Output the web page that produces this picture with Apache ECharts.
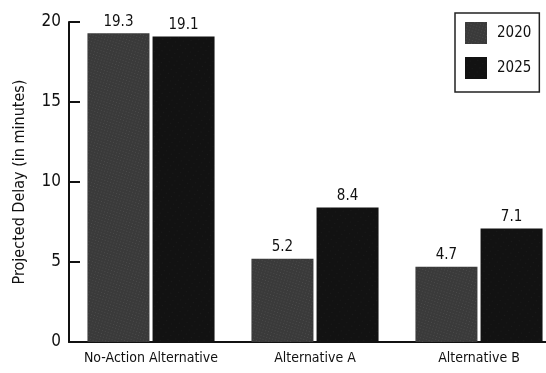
<!DOCTYPE html>
<html><head><meta charset="utf-8">
<script src="https://cdn.jsdelivr.net/npm/echarts@6/dist/echarts.min.js"></script>
<style>html,body{margin:0;padding:0;background:#fff}#c{width:546px;height:373px}</style>
</head><body><div id="c"></div>
<script>
const categories = ['No-Action Alternative', 'Alternative A', 'Alternative B'];
const values2020 = [19.3, 5.2, 4.7];
const values2025 = [19.1, 8.4, 7.1];
const yTicks = [0, 5, 10, 15, 20];
const seriesNames = ['2020', '2025'];

const FONT = '"DejaVu Sans Condensed", sans-serif';
const chart = echarts.init(document.getElementById('c'));
const lbl = { show: true, position: 'top', distance: 4, color: '#111', fontFamily: FONT, fontSize: 15, formatter: p => p.value.toFixed(1) };
const decal1 = { symbol: 'rect', symbolSize: 0.5, color: 'rgba(255,255,255,0.35)', dashArrayX: [[1, 2]], dashArrayY: [1, 2], rotation: 0.3 };
const decal2 = { symbol: 'rect', symbolSize: 0.5, color: 'rgba(255,255,255,0.15)', dashArrayX: [[1, 5]], dashArrayY: [1, 4], rotation: 0.6 };
chart.setOption({
  animation: false,
  grid: { left: 69, top: 22, width: 492, height: 320, outerBoundsMode: 'none' },
  legend: {
    data: seriesNames, orient: 'vertical', left: 455, top: 13,
    itemWidth: 22, itemHeight: 22, itemGap: 13,
    textStyle: { fontFamily: FONT, fontSize: 15, color: '#111', padding: [0, 0, 0, 5] },
    borderColor: '#222', borderWidth: 1.5, padding: [9, 8, 13, 10],
    icon: 'rect'
  },
  xAxis: {
    type: 'category', data: categories,
    axisLine: { lineStyle: { color: '#111', width: 2 } },
    axisTick: { show: false },
    axisLabel: { interval: 0, color: '#111', fontFamily: FONT, fontSize: 14, margin: 9 }
  },
  yAxis: {
    type: 'value', min: 0, max: 20, interval: 5,
    name: 'Projected Delay (in minutes)', nameLocation: 'middle', nameGap: 41,
    nameTextStyle: { fontFamily: FONT, fontSize: 16, color: '#111' },
    axisLine: { show: true, lineStyle: { color: '#111', width: 2 } },
    axisTick: { show: true, inside: true, length: 11, lineStyle: { color: '#111', width: 2 } },
    axisLabel: { color: '#111', fontFamily: FONT, fontSize: 17, margin: 8, formatter: v => yTicks.includes(v) ? String(v) : '' },
    splitLine: { show: false }
  },
  series: [
    { name: seriesNames[0], type: 'bar', data: values2020, barWidth: 62, barGap: '5%', itemStyle: { color: '#3a3a3a', decal: decal1 }, label: lbl },
    { name: seriesNames[1], type: 'bar', data: values2025, barWidth: 62, barGap: '5%', itemStyle: { color: '#121212', decal: decal2 }, label: lbl }
  ]
});
</script></body></html>
